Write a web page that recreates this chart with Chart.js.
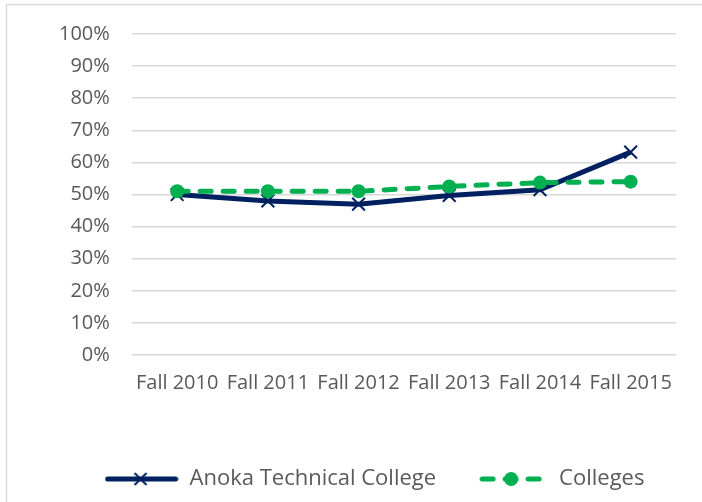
<!DOCTYPE html>
<html>
<head>
<meta charset="utf-8">
<script src="https://cdn.jsdelivr.net/npm/chart.js@4.4.1/dist/chart.umd.min.js"></script>
<style>
  html, body { margin: 0; padding: 0; background: #fff; }
  #wrap { width: 702px; height: 502px; }
</style>
</head>
<body>
<div id="wrap"><canvas id="chart" width="702" height="502"></canvas></div>
<script>
// ---- data ----
const categories = ['Fall 2010', 'Fall 2011', 'Fall 2012', 'Fall 2013', 'Fall 2014', 'Fall 2015'];
const anokaValues = [50, 48, 47, 49.7, 51.5, 63.2];
const collegesValues = [51, 51, 51, 52.5, 53.7, 54];
const seriesNames = ['Anoka Technical College', 'Colleges'];
const yTicks = [0, 10, 20, 30, 40, 50, 60, 70, 80, 90, 100];

const NAVY = '#002060';
const GREEN = '#00B050';
const TEXT = '#595959';
const FONT = "'Open Sans', sans-serif";

// legend swatches: line with the marker in the middle
function swatch(kind) {
  const c = document.createElement('canvas');
  c.width = 74; c.height = 18;
  const g = c.getContext('2d');
  g.lineCap = 'round';
  if (kind === 'x') {
    g.strokeStyle = NAVY; g.lineWidth = 5;
    g.beginPath(); g.moveTo(3, 9); g.lineTo(71, 9); g.stroke();
    g.lineWidth = 2;
    g.lineCap = 'butt';
    g.beginPath(); g.moveTo(30, 3); g.lineTo(42, 15); g.moveTo(42, 3); g.lineTo(30, 15); g.stroke();
  } else {
    g.strokeStyle = GREEN; g.lineWidth = 5;
    g.setLineDash([11, 12]);
    g.beginPath(); g.moveTo(8, 9); g.lineTo(70, 9); g.stroke();
    g.fillStyle = GREEN;
    g.beginPath(); g.arc(37, 9, 7, 0, Math.PI * 2); g.fill();
  }
  return c;
}

const frame = {
  id: 'frame',
  afterDraw(chart) {
    const ctx = chart.ctx;
    ctx.save();
    ctx.strokeStyle = '#d9d9d9';
    ctx.lineWidth = 1.5;
    ctx.strokeRect(6.5, 4.5, 900, 900);
    ctx.restore();
  }
};

// nudge the legend a little right, like the original
const legendShift = {
  id: 'legendShift',
  afterLayout(chart) {
    chart.legend.left += 18;
    chart.legend.right += 18;
  }
};

new Chart(document.getElementById('chart'), {
  type: 'line',
  data: {
    labels: categories,
    datasets: [
      {
        label: seriesNames[0],
        data: anokaValues,
        borderColor: NAVY,
        backgroundColor: NAVY,
        borderWidth: 5,
        pointStyle: 'cross',
        rotation: 45,
        pointRadius: 9,
        pointBorderWidth: 2,
        pointBorderColor: NAVY,
        tension: 0,
        order: 2,
      },
      {
        label: seriesNames[1],
        data: collegesValues,
        borderColor: GREEN,
        backgroundColor: GREEN,
        borderWidth: 5,
        borderDash: [11, 12],
        borderCapStyle: 'round',
        pointStyle: 'circle',
        pointRadius: 7,
        pointBorderWidth: 0,
        tension: 0,
        order: 1,
      }
    ]
  },
  options: {
    responsive: false,
    animation: false,
    layout: { padding: { top: 32, left: 37, right: 26, bottom: 2 } },
    scales: {
      x: {
        offset: true,
        grid: { display: false },
        border: { display: false },
        ticks: { color: TEXT, font: { family: FONT, size: 20 }, padding: 8, maxRotation: 0, autoSkip: false },
        afterFit(scale) { scale.height += 27; }
      },
      y: {
        min: 0, max: 100,
        afterBuildTicks(scale) { scale.ticks = yTicks.map(v => ({ value: v })); },
        grid: { color: '#d9d9d9', lineWidth: 1.5, drawTicks: false },
        border: { display: false },
        ticks: {
          color: TEXT, font: { family: FONT, size: 20 }, padding: 22,
          callback: v => v + '%'
        }
      }
    },
    plugins: {
      legend: {
        position: 'bottom',
        labels: {
          usePointStyle: true,
          pointStyleWidth: 74,
          generateLabels(chart) {
            return chart.data.datasets.map((ds, i) => ({
              text: ds.label,
              pointStyle: swatch(i === 0 ? 'x' : 'o'),
              fontColor: TEXT,
              lineWidth: 0,
              datasetIndex: i,
              hidden: false
            }));
          },
          color: TEXT,
          font: { family: FONT, size: 22 },
          padding: 38
        }
      },
      tooltip: { enabled: false }
    }
  },
  plugins: [frame, legendShift]
});
</script>
</body>
</html>
